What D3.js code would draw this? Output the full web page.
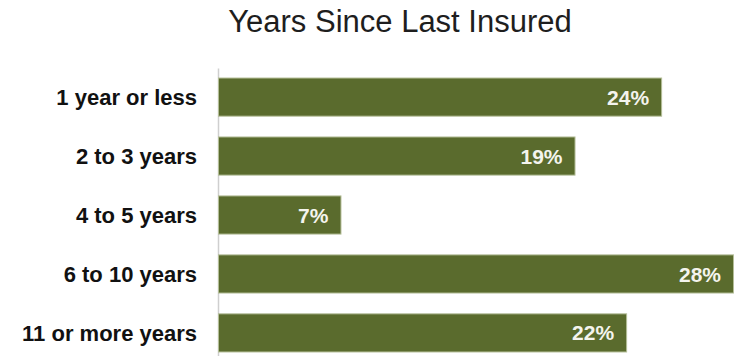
<!DOCTYPE html>
<html>
<head>
<meta charset="utf-8">
<script src="https://cdn.jsdelivr.net/npm/d3@7"></script>
<style>
  html, body { margin: 0; padding: 0; background: #fff; }
  svg { display: block; }
</style>
</head>
<body>
<div id="chart"></div>
<script>
// chart data
const categories = ['1 year or less', '2 to 3 years', '4 to 5 years', '6 to 10 years', '11 or more years'];
const shares = [24.1, 19.4, 6.7, 28.0, 22.2]; // percent
const title = 'Years Since Last Insured';

const width = 735;
const height = 356;
const margin = { top: 68, right: 1, bottom: -6, left: 218 };

const font = '"Liberation Sans", Arial, sans-serif';
const barFill = '#5a6b2d';

const data = categories.map((label, i) => ({ label, value: shares[i] }));

const svg = d3
  .select('#chart')
  .append('svg')
  .attr('width', width)
  .attr('height', height);

svg
  .append('text')
  .attr('x', 400)
  .attr('y', 32)
  .style('text-anchor', 'middle')
  .style('font-family', font)
  .style('font-size', '31px')
  .attr('fill', '#1e1e1e')
  .text(title);

const x = d3
  .scaleLinear()
  .domain([0, d3.max(shares)])
  .range([margin.left, width - margin.right]);

const y = d3
  .scaleBand()
  .domain(categories)
  .range([margin.top, height - margin.bottom])
  .paddingInner(0.353)
  .paddingOuter(0.17);

// category axis: light rule on the left, labels without ticks
const yG = svg
  .append('g')
  .attr('transform', `translate(${margin.left}, 0)`)
  .call(d3.axisLeft(y).tickSize(0).tickSizeOuter(0).tickPadding(21));

yG.select('path.domain')
  .style('stroke', '#cfcfcf')
  .style('stroke-width', 1.5);

yG.selectAll('text')
  .style('font-family', font)
  .style('font-size', '22px')
  .style('font-weight', 'bold')
  .attr('fill', '#111')
  .attr('dy', '0.36em');

const barGs = svg
  .selectAll('g.bar-g')
  .data(data)
  .enter()
  .append('g')
  .attr('class', 'bar-g');

barGs
  .append('rect')
  .attr('x', x(0) + 0.5)
  .attr('y', d => y(d.label))
  .attr('width', d => x(d.value) - x(0) - 1)
  .attr('height', y.bandwidth())
  .attr('fill', barFill)
  .attr('stroke', '#b4be98')
  .attr('stroke-width', 1);

barGs
  .append('text')
  .attr('x', d => x(d.value) - 13)
  .attr('y', d => y(d.label) + y.bandwidth() / 2)
  .attr('dy', '0.36em')
  .style('text-anchor', 'end')
  .style('font-family', font)
  .style('font-size', '21px')
  .style('font-weight', 'bold')
  .attr('fill', '#f4f4ee')
  .text(d => `${Math.round(d.value)}%`);
</script>
</body>
</html>
